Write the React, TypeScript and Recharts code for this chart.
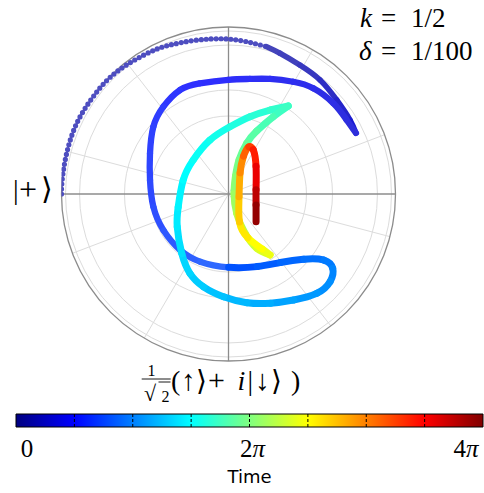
import React from 'react';
import {
  LineChart, Line, XAxis, YAxis, RadarChart, PolarGrid, PolarAngleAxis,
  BarChart, Bar, ReferenceLine,
} from 'recharts';

const W = 484;
const H = 493;
const CX = 228.5;
const CY = 194;
const R = 167;
const TMAX = 4 * Math.PI;

// trajectory on the projected sphere: [u, v, time / pi]
const approach: number[][] = [
  [-1.0, 0.0, 0], [-0.996, 0.084, 0.008], [-0.969, 0.244, 0.02], [-0.909, 0.423, 0.032],
  [-0.81, 0.583, 0.044], [-0.669, 0.732, 0.056], [-0.47, 0.85, 0.072], [-0.35, 0.892, 0.08],
  [-0.231, 0.916, 0.088], [-0.111, 0.928, 0.096], [-0.003, 0.928, 0.104], [0.109, 0.912, 0.112],
  [0.229, 0.882, 0.124],
];

const sweep: number[][] = [
  [0.308, 0.843, 0.14], [0.428, 0.772, 0.16], [0.548, 0.683, 0.2], [0.648, 0.563, 0.24],
  [0.728, 0.443, 0.28], [0.763, 0.365, 0.32], [0.708, 0.443, 0.34], [0.628, 0.543, 0.36],
  [0.508, 0.633, 0.4], [0.388, 0.672, 0.42], [0.249, 0.689, 0.44], [0.129, 0.689, 0.46],
  [0.0, 0.684, 0.48], [-0.171, 0.663, 0.5], [-0.29, 0.623, 0.52], [-0.39, 0.523, 0.56],
  [-0.45, 0.403, 0.58], [-0.47, 0.244, 0.6], [-0.47, 0.084, 0.62], [-0.45, -0.076, 0.64],
  [-0.39, -0.216, 0.68], [-0.29, -0.335, 0.72], [-0.171, -0.405, 0.76], [-0.001, -0.439, 0.8],
  [0.169, -0.435, 0.84], [0.308, -0.411, 0.88], [0.448, -0.391, 0.92], [0.568, -0.395, 0.96],
  [0.624, -0.445, 1.0], [0.608, -0.525, 1.04], [0.528, -0.595, 1.08], [0.388, -0.635, 1.12],
  [0.249, -0.654, 1.16], [0.109, -0.651, 1.2], [-0.031, -0.615, 1.24], [-0.151, -0.555, 1.28],
  [-0.231, -0.475, 1.32], [-0.28, -0.355, 1.36], [-0.307, -0.196, 1.4], [-0.301, -0.076, 1.44],
  [-0.271, 0.084, 1.48], [-0.211, 0.204, 1.52], [-0.111, 0.323, 1.56], [0.009, 0.403, 1.6],
  [0.129, 0.463, 1.64], [0.249, 0.503, 1.68], [0.358, 0.527, 1.72],
];

const crescent: number[][] = [
  [0.268, 0.463, 1.76], [0.169, 0.377, 1.82], [0.109, 0.304, 1.88], [0.063, 0.204, 1.94],
  [0.042, 0.108, 2.0], [0.033, 0.004, 2.08], [0.049, -0.116, 2.16], [0.099, -0.235, 2.24],
  [0.169, -0.325, 2.32], [0.249, -0.365, 2.4], [0.201, -0.329, 2.46], [0.117, -0.263, 2.54],
  [0.066, -0.168, 2.64], [0.063, -0.018, 2.76], [0.069, 0.124, 2.88], [0.089, 0.223, 3.04],
  [0.119, 0.28, 3.2], [0.149, 0.263, 3.32], [0.165, 0.163, 3.48], [0.165, 0.024, 3.68],
  [0.165, -0.066, 3.84], [0.165, -0.166, 4.0],
];

// grid of the projection
const ringRadii = [0.467, 0.623, 0.892, 0.976];
const spokeAngles = [20.8, 59.7, 127.8, 165.2, 200.8, 239.7, 307.8, 345.2];
const axisAngles = [0, 90, 180, 270];

// colorbar
const timeTicks = [0, 2 * Math.PI, 4 * Math.PI];
const timeLabels = ['0', '2', '4'];
const tickNudge = [11, 3, -17];
const divisions = [1, 2, 3, 4, 5, 6, 7].map((k) => (k * Math.PI) / 2);
const jetStops = [0, 0.125, 0.375, 0.625, 0.875, 1];

// jet colormap, optionally washed towards white
const jet = (f: number, alpha = 1) => {
  const c = (x: number) => Math.round(255 * (1 - alpha) + 255 * alpha * Math.max(0, Math.min(1, x)));
  return `rgb(${c(1.5 - Math.abs(4 * f - 3))},${c(1.5 - Math.abs(4 * f - 2))},${c(1.5 - Math.abs(4 * f - 1))})`;
};

const toPoint = (p: number[]) => ({ u: p[0], v: p[1] });

// split the solid part at the cusps so each piece is a smooth curve
const solid = [approach[approach.length - 1], ...sweep, ...crescent];
const cuspTimes = [0.32, 1.72, 2.4];
const pieces: number[][][] = [];
let current: number[][] = [];
solid.forEach((p) => {
  current.push(p);
  if (cuspTimes.includes(p[2])) {
    pieces.push(current);
    current = [p];
  }
});
pieces.push(current);

const DASH_TOTAL = 1000;
const segments = pieces.flatMap((piece, k) => {
  const cum = [0];
  for (let i = 1; i < piece.length; i++) {
    cum.push(cum[i - 1] + Math.hypot(piece[i][0] - piece[i - 1][0], piece[i][1] - piece[i - 1][1]));
  }
  const total = cum[cum.length - 1];
  const data = piece.map(toPoint);
  return piece.slice(1).map((p, i) => {
    const f = (piece[i][2] + p[2]) / 8;
    const a = (cum[i] / total) * DASH_TOTAL;
    const b = (cum[i + 1] / total) * DASH_TOTAL;
    return {
      key: `${k}-${i}`,
      data,
      dash: `${b - a} ${DASH_TOTAL * 3}`,
      offset: -a,
      color: jet(f, f < 0.08 ? 0.6 + f * 4 : f < 0.2 ? 0.82 : 1),
      width: f < 0.08 ? 5.5 : f < 0.2 ? 6.3 : 7,
    };
  });
});

const serif = "'Liberation Serif', 'DejaVu Serif', serif";

const ColorbarTick = (props: any) => {
  const { x, y, index } = props;
  return (
    <text x={x + tickNudge[index]} y={y + 21.5} textAnchor="middle" fontSize={25} fontFamily={serif} fill="#000">
      {timeLabels[index]}
      {index > 0 && <tspan fontStyle="italic">π</tspan>}
    </text>
  );
};

const layer: React.CSSProperties = { position: 'absolute', left: 0, top: 0 };

export default function App() {
  return (
    <div style={{ position: 'absolute', left: 0, top: 0, width: W, height: H, background: '#fff', overflow: 'hidden' }}>
      <div style={layer}>
        <RadarChart width={W} height={H} cx={CX} cy={CY} outerRadius={R} margin={{ top: 0, right: 0, bottom: 0, left: 0 }}
          data={spokeAngles.map((a) => ({ a }))}>
          <PolarAngleAxis dataKey="a" tick={false} tickLine={false} axisLine={false} />
          <PolarGrid gridType="circle" polarAngles={spokeAngles} polarRadius={ringRadii.map((r) => r * R)} stroke="#dcdcdc" strokeWidth={1} />
          <PolarGrid gridType="circle" polarAngles={axisAngles} polarRadius={[R]} stroke="#8c8c8c" strokeWidth={1.3} />
        </RadarChart>
      </div>

      <div style={layer}>
        <LineChart width={W} height={H} margin={{ top: CY - R, right: W - CX - R, bottom: H - CY - R, left: CX - R }}>
          <XAxis type="number" dataKey="u" domain={[-1, 1]} hide allowDataOverflow />
          <YAxis type="number" domain={[-1, 1]} hide allowDataOverflow />
          <Line data={approach.map(toPoint)} dataKey="v" type="natural" stroke="#4e4ec0" strokeWidth={5.2}
            strokeLinecap="round" strokeDasharray="0 5" dot={false} activeDot={false} isAnimationActive={false} />
          {segments.map((s) => (
            <Line key={s.key} data={s.data} dataKey="v" type="natural" stroke={s.color}
              strokeWidth={s.width} strokeLinecap="round" pathLength={DASH_TOTAL} strokeDasharray={s.dash}
              strokeDashoffset={s.offset} dot={false} activeDot={false} isAnimationActive={false} />
          ))}
        </LineChart>
      </div>

      <div style={layer}>
        <BarChart width={W} height={H} layout="vertical" data={[{ name: 'time', value: TMAX }]}
          margin={{ top: 414, right: 1, bottom: 6, left: 16 }} barCategoryGap={0}>
          <defs>
            <linearGradient id="jetbar" x1="0" y1="0" x2="1" y2="0">
              {jetStops.map((o) => <stop key={o} offset={o} stopColor={jet(o)} />)}
            </linearGradient>
          </defs>
          <XAxis type="number" domain={[0, TMAX]} ticks={timeTicks} interval={0} height={60} axisLine={false}
            tickLine={false} tick={<ColorbarTick />}
            label={{ value: 'Time', position: 'insideBottom', offset: 4, fill: '#000', fontSize: 18, fontFamily: 'DejaVu Sans' }} />
          <YAxis type="category" dataKey="name" hide />
          <Bar dataKey="value" fill="url(#jetbar)" stroke="#000" strokeWidth={1} isAnimationActive={false} />
          {divisions.map((d) => <ReferenceLine key={d} x={d} stroke="#000" strokeDasharray="3 2" />)}
        </BarChart>
      </div>

      <svg width={W} height={H} style={layer} fontFamily={serif}>
        <text y={26.5} fontSize={27}>
          <tspan x={360} fontStyle="italic">k</tspan>
          <tspan x={381}>=</tspan>
          <tspan x={411}>1/2</tspan>
        </text>
        <text y={60} fontSize={27}>
          <tspan x={359} fontStyle="italic">δ</tspan>
          <tspan x={381}>=</tspan>
          <tspan x={411}>1/100</tspan>
        </text>
        <text y={199}>
          <tspan x={13} fontSize={28}>|</tspan>
          <tspan x={19} y={200} fontSize={32}>+</tspan>
          <tspan x={41} y={199} fontSize={30} fontFamily="'DejaVu Serif', serif">⟩</tspan>
        </text>
        <text x={151.5} y={376} fontSize={16} textAnchor="middle">1</text>
        <line x1={141.7} x2={170.7} y1={379} y2={379} stroke="#000" strokeWidth={0.9} />
        <text x={144} y={401} fontSize={22}>√</text>
        <line x1={158.5} x2={170.5} y1={382} y2={382} stroke="#000" strokeWidth={0.9} />
        <text x={161.5} y={401.5} fontSize={16}>2</text>
        <text y={390}>
          <tspan x={171} fontSize={28}>(</tspan>
          <tspan x={181} fontSize={29}>↑</tspan>
          <tspan x={196} fontSize={28} fontFamily="'DejaVu Serif', serif">⟩</tspan>
          <tspan x={208} fontSize={30}>+</tspan>
          <tspan x={237.5} fontSize={28} fontStyle="italic">i</tspan>
          <tspan x={247.5} fontSize={28}>|</tspan>
          <tspan x={255} fontSize={29}>↓</tspan>
          <tspan x={271} fontSize={28} fontFamily="'DejaVu Serif', serif">⟩</tspan>
          <tspan x={291} fontSize={28}>)</tspan>
        </text>
      </svg>
    </div>
  );
}
